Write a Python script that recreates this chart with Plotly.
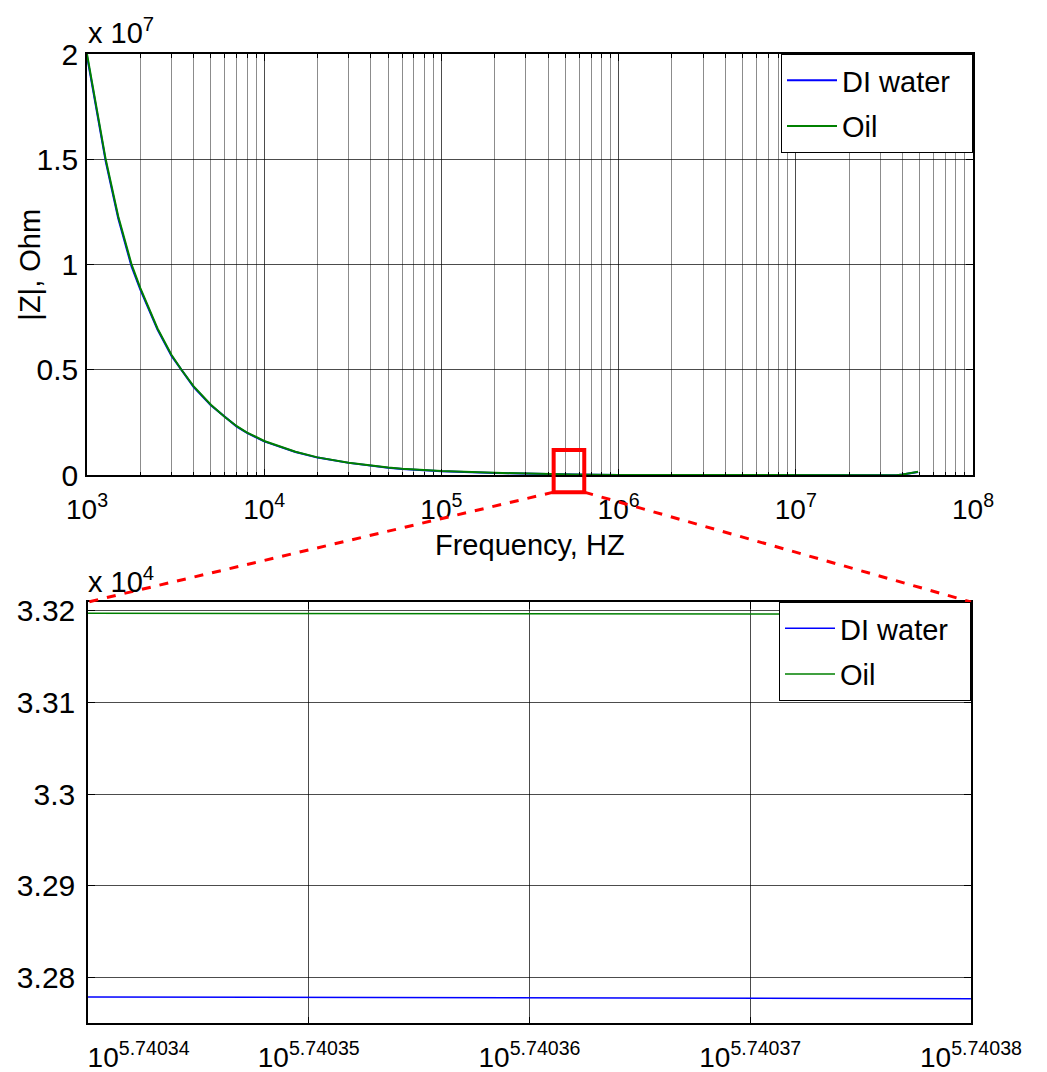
import numpy as np
import plotly.graph_objects as go

# ---------------- data ----------------
# Full sweep: frequency (Hz) and impedance magnitude (Ohm)
freq_hz = [1.0e3, 1.275e3, 1.5e3, 1.786e3, 2.0e3, 2.5e3, 3.0e3, 3.42e3, 4.0e3, 5.0e3,
           6.0e3, 7.0e3, 8.0e3, 9.0e3, 1.0e4, 1.5e4, 2.0e4, 3.0e4, 4.0e4, 5.0e4,
           6.0e4, 7.0e4, 8.0e4, 1.0e5, 2.0e5, 3.0e5, 5.5e5, 1.0e6, 3.0e6, 1.0e7,
           3.7e7, 4.0e7, 4.4e7, 4.9e7]
z_water = [1.99e7, 1.49e7, 1.22e7, 0.99e7, 0.882e7, 0.692e7, 0.567e7, 0.497e7, 4.19e6, 3.32e6,
           2.75e6, 2.31e6, 2.01e6, 1.78e6, 1.61e6, 1.11e6, 0.84e6, 0.59e6, 0.45e6, 0.36e6,
           0.30e6, 0.26e6, 0.23e6, 0.19e6, 0.11e6, 0.07e6, 3.278e4, 1.9e4, 8.0e3, 4.0e3,
           2.0e3, 4.0e4, 9.0e4, 1.6e5]
z_oil = [2.00e7, 1.50e7, 1.23e7, 1.00e7, 0.889e7, 0.697e7, 0.571e7, 0.500e7, 4.22e6, 3.35e6,
         2.77e6, 2.33e6, 2.03e6, 1.80e6, 1.63e6, 1.12e6, 0.85e6, 0.60e6, 0.46e6, 0.37e6,
         0.31e6, 0.27e6, 0.24e6, 0.20e6, 0.12e6, 0.075e6, 3.3197e4, 2.0e4, 8.5e3, 4.2e3,
         2.2e3, 4.2e4, 9.5e4, 1.7e5]

# Zoomed window: log10(frequency) and impedance magnitude (Ohm)
zoom_log_f = [5.74034, 5.74035, 5.74036, 5.74037, 5.74038]
zoom_water = [3.27790e4, 3.27785e4, 3.27780e4, 3.27775e4, 3.27770e4]
zoom_oil = [3.31970e4, 3.31968e4, 3.31966e4, 3.31963e4, 3.31960e4]

# Tick labels
top_x_exp = [3, 4, 5, 6, 7, 8]
top_y_vals = [0, 0.5e7, 1.0e7, 1.5e7, 2.0e7]
top_y_text = ["0", "0.5", "1", "1.5", "2"]
bot_y_vals = [3.28e4, 3.29e4, 3.30e4, 3.31e4, 3.32e4]
bot_y_text = ["3.28", "3.29", "3.3", "3.31", "3.32"]
series_names = ["DI water", "Oil"]

# Highlighted region on the full sweep
box_f = [4.3e5, 6.4e5]
box_z = [-0.8e6, 1.2e6]

# ---------------- layout geometry ----------------
W, H = 1047, 1072
FONT = "Liberation Sans, Arial, sans-serif"
BLUE = "#0000ff"
GREEN = "#008000"
PAD = "&nbsp;&nbsp;"  # right-hand padding inside the legend boxes


def px_x(p):
    return p / W


def px_y(p):
    return 1 - p / H


top_xdom = [px_x(87), px_x(973)]
top_ydom = [px_y(475.3), px_y(54)]
bot_xdom = [px_x(88), px_x(971)]
bot_ydom = [px_y(1023.3), px_y(602)]

top_xrange = [3, 8]
top_yrange = [0, 2.0e7]
bot_yrange = [3.27503e4, 3.32093e4]
bot_xrange = [zoom_log_f[0] - 2e-9, zoom_log_f[-1] + 2e-9]


def top_to_paper(f, z):
    lx = (np.log10(f) - top_xrange[0]) / (top_xrange[1] - top_xrange[0])
    ly = (z - top_yrange[0]) / (top_yrange[1] - top_yrange[0])
    return (top_xdom[0] + lx * (top_xdom[1] - top_xdom[0]),
            top_ydom[0] + ly * (top_ydom[1] - top_ydom[0]))


fig = go.Figure()

fig.add_trace(go.Scatter(x=freq_hz, y=z_water, mode="lines", name=series_names[0] + PAD,
                         line=dict(color=BLUE, width=2), xaxis="x", yaxis="y",
                         legend="legend", legendgroup="w1"))
fig.add_trace(go.Scatter(x=freq_hz, y=z_oil, mode="lines", name=series_names[1],
                         line=dict(color=GREEN, width=2), xaxis="x", yaxis="y",
                         legend="legend", legendgroup="o1"))

zoom_f = [10 ** v for v in zoom_log_f]
fig.add_trace(go.Scatter(x=zoom_f, y=zoom_water, mode="lines", name=series_names[0] + PAD,
                         line=dict(color=BLUE, width=1.5), xaxis="x2", yaxis="y2",
                         legend="legend2", legendgroup="w2"))
fig.add_trace(go.Scatter(x=zoom_f, y=zoom_oil, mode="lines", name=series_names[1],
                         line=dict(color=GREEN, width=1.5), xaxis="x2", yaxis="y2",
                         legend="legend2", legendgroup="o2"))

major_grid = "rgba(0,0,0,0.7)"
minor_grid = "rgba(0,0,0,0.45)"
xtickfont = dict(family=FONT, size=28, color="black")
ytickfont = dict(family=FONT, size=30, color="black")

minor_vals = [k * 10 ** d for d in range(3, 8) for k in range(2, 10)]

axis_common = dict(showline=True, linecolor="black", linewidth=1.5, mirror="ticks",
                   ticks="inside", ticklen=7, tickcolor="black",
                   zeroline=False, showgrid=True, gridwidth=1, automargin=False,
                   ticklabeloverflow="allow")

# exponent labels for the zoomed axis; the first one is kept clear of the left edge
bot_x_text = ["10<sup>%.5f</sup>" % v for v in zoom_log_f]
bot_x_text[0] = "&nbsp;" * 13 + bot_x_text[0]

legend_style = dict(xanchor="right", yanchor="top", bgcolor="white",
                    bordercolor="black", borderwidth=1, itemwidth=50,
                    tracegroupgap=5,
                    font=dict(family=FONT, size=29, color="black"))

fig.update_layout(
    width=W, height=H,
    margin=dict(l=0, r=0, t=0, b=0, pad=0, autoexpand=False),
    paper_bgcolor="white", plot_bgcolor="white",
    font=dict(family=FONT, size=28, color="black"),
    xaxis=dict(domain=top_xdom, type="log", range=top_xrange, anchor="y",
               tickmode="array", tickvals=[10 ** e for e in top_x_exp],
               ticktext=["10<sup>%d</sup>" % e for e in top_x_exp],
               tickfont=xtickfont, ticklabelstandoff=8,
               gridcolor=major_grid,
               minor=dict(tickvals=minor_vals, showgrid=True, gridcolor=minor_grid,
                          ticks="inside", ticklen=4, tickcolor="black"),
               **axis_common),
    yaxis=dict(domain=top_ydom, range=top_yrange, anchor="x",
               tickmode="array", tickvals=top_y_vals, ticktext=top_y_text,
               tickfont=ytickfont, ticklabelstandoff=1,
               gridcolor=major_grid, **axis_common),
    xaxis2=dict(domain=bot_xdom, type="log", range=bot_xrange,
                anchor="y2", tickmode="array", tickvals=zoom_f,
                ticktext=bot_x_text, tickfont=xtickfont, ticklabelstandoff=8,
                gridcolor=major_grid, **axis_common),
    yaxis2=dict(domain=bot_ydom, range=bot_yrange, anchor="x2",
                tickmode="array", tickvals=bot_y_vals, ticktext=bot_y_text,
                tickfont=ytickfont, ticklabelstandoff=5,
                gridcolor=major_grid, **axis_common),
    legend=dict(x=top_xdom[1], y=top_ydom[1], **legend_style),
    legend2=dict(x=bot_xdom[1], y=bot_ydom[1], **legend_style),
    showlegend=True,
)

# Axis titles and exponent labels
fig.add_annotation(text="Frequency, HZ", x=(top_xdom[0] + top_xdom[1]) / 2, y=px_y(545),
                   xref="paper", yref="paper", showarrow=False,
                   xanchor="center", yanchor="middle", font=dict(size=29))
fig.add_annotation(text="|Z|, Ohm", x=px_x(30), y=(top_ydom[0] + top_ydom[1]) / 2,
                   xref="paper", yref="paper", showarrow=False, textangle=-90,
                   xanchor="center", yanchor="middle", font=dict(size=29))
fig.add_annotation(text="x 10<sup>7</sup>", x=px_x(86), y=px_y(51),
                   xref="paper", yref="paper", showarrow=False,
                   xanchor="left", yanchor="bottom", font=dict(size=29))
fig.add_annotation(text="x 10<sup>4</sup>", x=px_x(86), y=px_y(600),
                   xref="paper", yref="paper", showarrow=False,
                   xanchor="left", yanchor="bottom", font=dict(size=29))

# Zoom marker box on the full sweep and connectors to the zoomed panel
bx0, by0 = top_to_paper(box_f[0], box_z[0])
bx1, by1 = top_to_paper(box_f[1], box_z[1])
fig.add_shape(type="rect", xref="paper", yref="paper", x0=bx0, y0=by0, x1=bx1, y1=by1,
              line=dict(color="red", width=4), layer="above")
fig.add_shape(type="line", xref="paper", yref="paper", x0=bx0, y0=by0,
              x1=bot_xdom[0], y1=bot_ydom[1],
              line=dict(color="red", width=3, dash="dash"), layer="above")
fig.add_shape(type="line", xref="paper", yref="paper", x0=bx1, y0=by0,
              x1=bot_xdom[1], y1=bot_ydom[1],
              line=dict(color="red", width=3, dash="dash"), layer="above")

fig.write_html("out.html")
